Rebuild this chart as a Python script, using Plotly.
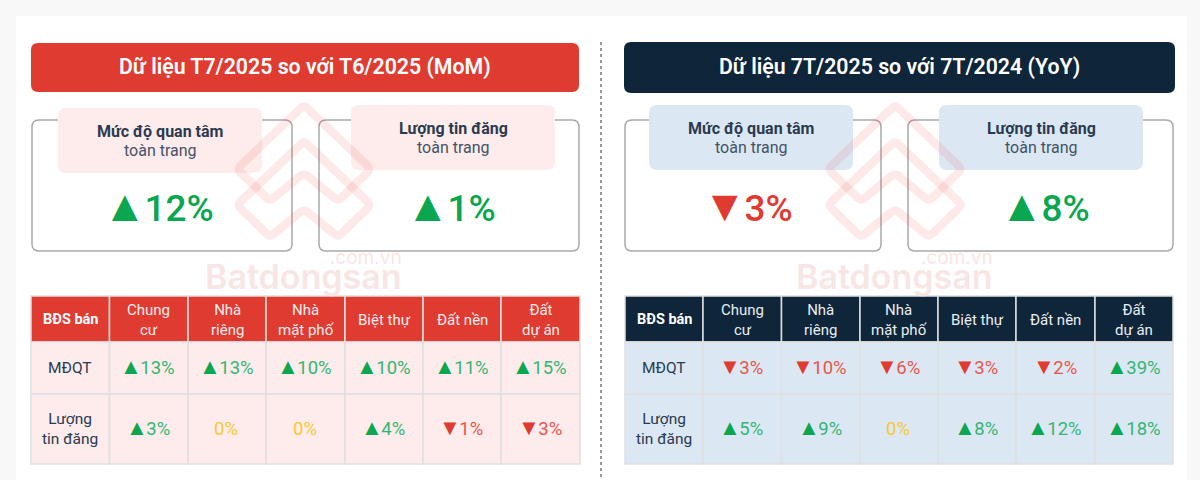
import plotly.graph_objects as go

# table content
columns = ['Chung<br>cư', 'Nhà<br>riêng', 'Nhà<br>mặt phố', 'Biệt thự', 'Đất nền', 'Đất<br>dự án']
row_labels = ['MĐQT', 'Lượng<br>tin đăng']
card_titles = ['Mức độ quan tâm', 'Lượng tin đăng']
mom_title = 'Dữ liệu T7/2025 so với T6/2025 (MoM)'
yoy_title = 'Dữ liệu 7T/2025 so với 7T/2024 (YoY)'

mom_cards = [12, 1]
yoy_cards = [-3, 8]
mom_mdqt = [13, 13, 10, 10, 11, 15]
mom_tin = [3, 0, 0, 4, -1, -3]
yoy_mdqt = [-3, -10, -6, -3, -2, 39]
yoy_tin = [5, 9, 0, 8, 12, 18]

RED = '#e03b31'
NAVY = '#0f2539'
PINK = '#fdeceb'
BLUE = '#dbe8f4'
INK = '#2b3a50'
GREEN = '#0ba650'
GREEN_TXT = '#35b573'
RED_TXT = '#e8554c'
YELLOW = '#f8c733'
FONT = 'Roboto'

fig = go.Figure()
shapes = []
notes = []


def rrect(x0, y0, x1, y1, r, fill, line=None, width=1.5):
    path = (f'M{x0+r},{y0} L{x1-r},{y0} Q{x1},{y0} {x1},{y0+r} L{x1},{y1-r} Q{x1},{y1} {x1-r},{y1} '
            f'L{x0+r},{y1} Q{x0},{y1} {x0},{y1-r} L{x0},{y0+r} Q{x0},{y0} {x0+r},{y0} Z')
    shapes.append(dict(type='path', path=path, fillcolor=fill, layer='below',
                       line=dict(color=line, width=width) if line else dict(width=0)))


def rect(x0, y0, x1, y1, fill):
    shapes.append(dict(type='rect', x0=x0, y0=y0, x1=x1, y1=y1, fillcolor=fill, layer='below',
                       line=dict(color='#dfdfdf', width=1.5)))


def label(x, y, text, size, color=INK, weight=None):
    notes.append(dict(x=x, y=y, text=text, showarrow=False,
                      font=dict(family=FONT, size=size, color=color, weight=weight), align='center',
                      xanchor='center', yanchor='middle'))


def value_text(v, tri_size, gap, up=GREEN_TXT, down=RED_TXT):
    tri = f'font-size:{tri_size}px;letter-spacing:{gap}px'
    if v > 0:
        return f'<span style="color:{GREEN};{tri}">▲</span><span style="color:{up}">{v}%</span>'
    if v < 0:
        return f'<span style="color:{RED};{tri}">▼</span><span style="color:{down}">{abs(v)}%</span>'
    return f'<span style="color:{YELLOW}">0%</span>'


def round_poly(pts, r=5):
    # closed polygon with softened corners
    n = len(pts)
    out = ''
    for i in range(n):
        px, py = pts[i - 1]
        x, y = pts[i]
        nx, ny = pts[(i + 1) % n]
        d1 = ((x - px) ** 2 + (y - py) ** 2) ** 0.5
        d2 = ((nx - x) ** 2 + (ny - y) ** 2) ** 0.5
        a = (x + (px - x) * r / d1, y + (py - y) * r / d1)
        b = (x + (nx - x) * r / d2, y + (ny - y) * r / d2)
        out += f'{"L" if i else "M"}{a[0]:.1f},{a[1]:.1f} Q{x},{y} {b[0]:.1f},{b[1]:.1f} '
    return out + 'Z'


def watermark(cx):
    pink = 'rgba(224,59,49,0.11)'
    for top in [105, 141]:
        pts = [(cx, top), (cx + 67, top + 64), (cx + 34, top + 96), (cx, top + 68),
               (cx - 34, top + 96), (cx - 67, top + 64)]
        shapes.append(dict(type='path', path=round_poly(pts), layer='above',
                           line=dict(color=pink, width=8.5)))
    notes.append(dict(x=cx + 100, y=244, xanchor='right', yanchor='top', align='right', showarrow=False,
                      text='.com.vn<br><span style="font-size:34px;font-weight:600">Batdongsan</span>',
                      font=dict(family='Inter', size=19, color='#f8e6e5')))


def panel(title, color, soft, header, cards, pills, big_x, card_vals, xs, row1, row2):
    rrect(*header, 7, color)
    label((header[0] + header[2]) / 2, 67, title, 21.3, 'white', 600)

    for (x0, x1), (px0, py0), bx, name, v in zip(cards, pills, big_x, card_titles, card_vals):
        rrect(x0, 120, x1, 251, 7, 'white', '#a9a9a9')
        rrect(px0, py0, px0 + 204, py0 + 65, 8, soft)
        cx = px0 + 102
        label(cx, py0 + 23, name, 16, INK, 700)
        label(cx, py0 + 42, 'toàn trang', 16, '#445268')
        label(bx, 206, value_text(v, 44, -2, GREEN, RED), 37, INK, 500)

    ys = [296, 342, 394, 464]
    for i in range(len(columns) + 1):
        rect(xs[i], ys[0], xs[i + 1], ys[1], color)
        rect(xs[i], ys[1], xs[i + 1], ys[2], soft)
        rect(xs[i], ys[2], xs[i + 1], ys[3], soft)
    label((xs[0] + xs[1]) / 2, 319, 'BĐS bán', 14.5, 'white', 700)
    label((xs[0] + xs[1]) / 2, 368, row_labels[0], 15.5)
    label((xs[0] + xs[1]) / 2, 429, row_labels[1], 15.5)
    for i, col in enumerate(columns):
        cx = (xs[i + 1] + xs[i + 2]) / 2
        label(cx, 320, col, 15, '#fdeeee' if color == RED else '#e9eef3')
        label(cx - 1, 366.5 if row1[i] else 368, value_text(row1[i], 22, -1.5), 18.5)
        label(cx - 1, 427.5 if row2[i] else 429, value_text(row2[i], 22, -1.5), 18.5)


# white sheet
shapes.append(dict(type='rect', x0=16, y0=16, x1=1187, y1=480, fillcolor='white', layer='below', line=dict(width=0)))

panel(mom_title, RED, PINK, (31, 43, 579, 92), [(32, 292), (319, 579)], [(58, 108), (351, 105)], [158, 451],
      mom_cards, [31, 109.5, 188, 266, 345, 423, 501, 580], mom_mdqt, mom_tin)
panel(yoy_title, NAVY, BLUE, (624, 42, 1175, 93), [(625, 881), (908, 1173)], [(649, 105), (939, 105)], [748, 1045],
      yoy_cards, [625, 703, 781.5, 860, 938, 1016, 1095, 1173], yoy_mdqt, yoy_tin)

watermark(304)
watermark(895)

# divider
shapes.append(dict(type='line', x0=601, y0=42, x1=601, y1=480, layer='below',
                   line=dict(color='#555555', width=1.2, dash='dot')))

fig.update_layout(
    width=1200, height=480, margin=dict(l=0, r=0, t=0, b=0),
    paper_bgcolor='#f8f8f8', plot_bgcolor='#f8f8f8', showlegend=False,
    xaxis=dict(range=[0, 1200], visible=False, fixedrange=True),
    yaxis=dict(range=[480, 0], visible=False, fixedrange=True),
    shapes=shapes, annotations=notes,
)

# the page's default body margin would push everything 8px
fig.write_html('out.html', config={'displayModeBar': False},
               post_script="document.body.style.margin='0';document.documentElement.style.overflow='hidden';")
